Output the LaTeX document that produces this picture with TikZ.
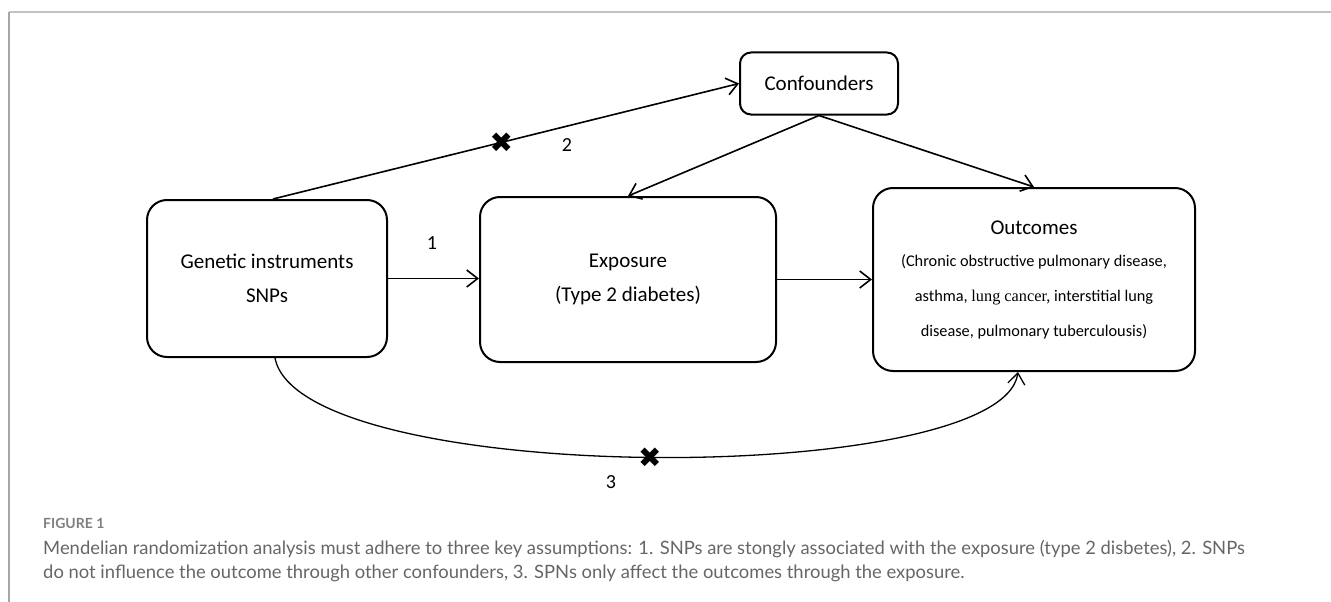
\documentclass[tikz,border=0pt]{standalone}
\usepackage{fontspec}
\setmainfont{Carlito}
\newfontfamily\capfont{Lato}
\newfontfamily\timesfont{Liberation Serif}
\newfontfamily\symbfont{DejaVu Sans}
\usetikzlibrary{arrows.meta, positioning}
\usepackage{xcolor}
\definecolor{framegray}{HTML}{C2C2C2}
\definecolor{sidegray}{HTML}{A6A6A6}
\definecolor{captiongray}{HTML}{666666}

\begin{document}
\begin{tikzpicture}[
    x=1pt, y=-1pt,
    >={Straight Barb[length=11pt, width=17pt]},
    box/.style={draw, line width=2pt, rounded corners=20pt, align=center, inner sep=0pt},
    arr/.style={->, line width=1.6pt},
    cross/.style={font=\symbfont\fontsize{28}{28}\selectfont, inner sep=0pt},
    num/.style={font=\fontsize{20}{20}\selectfont, inner sep=0pt}
]
\useasboundingbox (0,0) rectangle (1331,602);

% Frame
\draw[framegray, line width=2.5pt] (9,12) -- (1331,12);
\draw[sidegray, line width=2pt] (9,12) -- (9,602);

% Boxes
\node[box, minimum width=240pt, minimum height=157pt, font=\fontsize{21}{34}\selectfont] (gen) at (267,278.5) {Genetic instruments\\SNPs};
\node[box, minimum width=296pt, minimum height=165pt, font=\fontsize{21}{34}\selectfont] (expo) at (628,279.5) {Exposure\\(Type 2 diabetes)};
\node[box, minimum width=322pt, minimum height=183pt, font=\fontsize{16.3}{35}\selectfont] (outc) at (1034,279.5)
    {{\fontsize{21}{24}\selectfont Outcomes}\\[-3pt]
     (Chronic obstructive pulmonary disease,\\
     asthma, {\timesfont lung cancer,} interstitial lung\\
     disease, pulmonary tuberculousis)};
\node[box, rounded corners=11pt, minimum width=158pt, minimum height=62pt, font=\fontsize{21}{24}\selectfont] (conf) at (819,83.5) {Confounders};

% Arrows
\draw[arr] (gen.east) -- (expo.west |- gen.east);
\draw[arr] (expo.east) -- (outc.west |- expo.east);
\draw[arr] ([xshift=6pt]gen.north) -- node[cross, pos=0.49] (xtwo) {✖} (conf.west);
\draw[arr] (conf.south) -- (expo.north);
\draw[arr] (conf.south) -- (outc.north);
\draw[arr, line width=1.3pt] ([xshift=8pt]gen.south) .. controls (300,488) and (1002,488) .. node[cross, pos=0.5] (xthree) {✖} ([xshift=-16pt]outc.south);

% Labels
\node[num] (one) at (432,243) {1};
\node[num] (two) at (567,145) {2};
\node[num] (three) at (611,482) {3};

% Caption
\node[anchor=base west, inner sep=0pt, font=\capfont\bfseries\fontsize{14}{16}\selectfont, text=gray] (figlabel) at (43,528) {FIGURE 1};
\node[anchor=base west, inner sep=0pt, font=\capfont\fontsize{18.4}{22}\selectfont, text=captiongray] (capone) at (43,554) {Mendelian randomization analysis must adhere to three key assumptions: 1. SNPs are stongly associated with the exposure (type 2 disbetes), 2. SNPs};
\node[anchor=base west, inner sep=0pt, font=\capfont\fontsize{18.4}{22}\selectfont, text=captiongray] (captwo) at (43,578) {do not influence the outcome through other confounders, 3. SPNs only affect the outcomes through the exposure.};

\end{tikzpicture}
\end{document}
